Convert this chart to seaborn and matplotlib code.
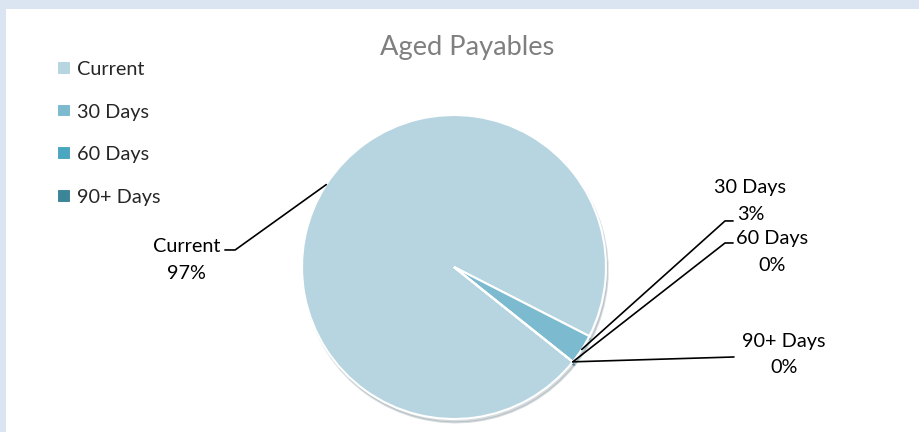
import numpy as np
import matplotlib
matplotlib.use("Agg")
import matplotlib.pyplot as plt
import seaborn as sns
from matplotlib.patches import Rectangle

# --- data ---
categories = ["Current", "30 Days", "60 Days", "90+ Days"]
shares = [96.8, 3.2, 0.0, 0.0]
colors = ["#b7d5e0", "#7bbacf", "#4ba6bf", "#3b8599"]

# label text centres and leader elbows (axes data units, 1 = pie radius)
label_pos = [(-1.76, 0.047), (1.95, 0.435), (2.09, 0.10), (2.17, -0.575)]
elbow_pos = [(-1.44, 0.112), (1.783, 0.303), (1.783, 0.158), (1.842, -0.592)]
end_pos = [(-1.507, 0.112), (1.836, 0.303), (1.836, 0.158), (1.842, -0.592)]

sns.set_theme(style="white")
plt.rcParams["font.family"] = ["Lato", "DejaVu Sans"]

W, H = 919, 432
fig = plt.figure(figsize=(W / 100, H / 100), dpi=100)
fig.patch.set_facecolor("#dbe5f1")
fig.patches.append(Rectangle((6 / W, 0), (W - 6) / W, (H - 9) / H,
                             transform=fig.transFigure, facecolor="white",
                             edgecolor="none", zorder=-5))

cx, cy, r = 454, H - 267, 152
ax = fig.add_axes([(cx - r) / W, (cy - r) / H, 2 * r / W, 2 * r / H])
ax.set_zorder(1)

wedges, _ = ax.pie(shares, colors=colors, startangle=-38.6, counterclock=False,
                   radius=1, wedgeprops=dict(edgecolor="white", linewidth=1.5),
                   shadow={"ox": 0.008, "oy": -0.016, "shade": 0.35, "alpha": 0.3})
# pie() pads the limits to 1.25, pin them back so radius 1 fills the axes
ax.set_xlim(-1, 1)
ax.set_ylim(-1, 1)
ax.set_aspect("equal")
ax.axis("off")

total = sum(shares)
for w, name, val, lp, el, en in zip(wedges, categories, shares, label_pos, elbow_pos, end_pos):
    mid = np.deg2rad((w.theta1 + w.theta2) / 2)
    x0, y0 = np.cos(mid), np.sin(mid)
    ax.plot([x0, el[0], en[0]], [y0, el[1], en[1]], color="black", lw=1.2,
            clip_on=False, zorder=5)
    ax.text(lp[0], lp[1], f"{name}\n{round(val / total * 100):.0f}%", ha="center",
            va="center", fontsize=14.3, color="black", linespacing=1.7, clip_on=False)

fig.text(467 / W, 1 - 48 / H, "Aged Payables", ha="center", va="center",
         fontsize=19.6, color="#7f7f7f")

fig.legend(wedges, categories, loc="upper left", bbox_to_anchor=(57 / W, 1 - 61 / H),
           frameon=False, fontsize=14.3, handlelength=0.68, handleheight=0.68,
           handletextpad=0.32, labelspacing=1.29, borderpad=0, borderaxespad=0)

fig.savefig("out.png", dpi=100, facecolor=fig.get_facecolor())
